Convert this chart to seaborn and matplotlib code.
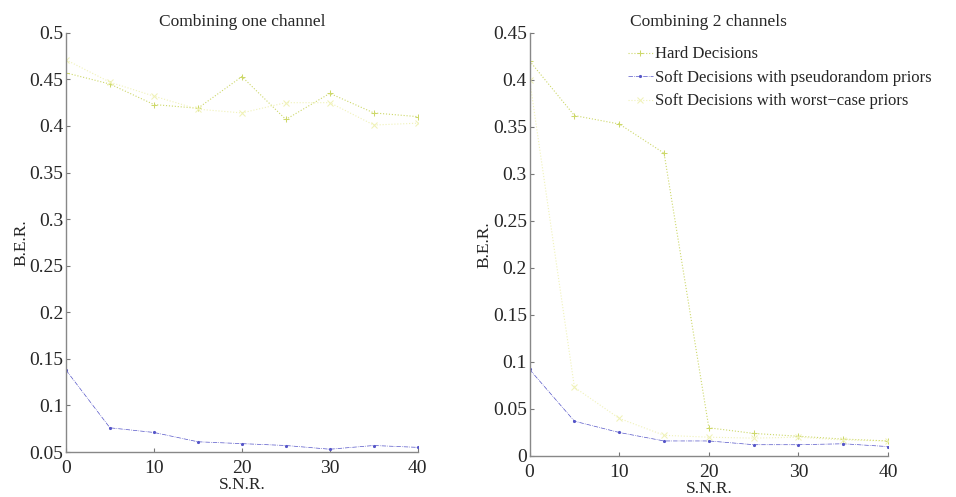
import numpy as np
import pandas as pd
import matplotlib
matplotlib.use("Agg")
import matplotlib.pyplot as plt
import seaborn as sns

snr = [0, 5, 10, 15, 20, 25, 30, 35, 40]

# one channel
hard_1 = [0.457, 0.445, 0.423, 0.419, 0.453, 0.407, 0.435, 0.414, 0.410]
soft_pseudo_1 = [0.138, 0.076, 0.071, 0.061, 0.059, 0.057, 0.053, 0.057, 0.055]
soft_worst_1 = [0.471, 0.447, 0.432, 0.418, 0.414, 0.425, 0.425, 0.401, 0.403]

# two channels
hard_2 = [0.42, 0.362, 0.353, 0.322, 0.030, 0.024, 0.021, 0.018, 0.016]
soft_pseudo_2 = [0.092, 0.037, 0.025, 0.016, 0.016, 0.012, 0.012, 0.013, 0.010]
soft_worst_2 = [0.40, 0.073, 0.040, 0.022, 0.020, 0.019, 0.020, 0.017, 0.016]

labels = ["Hard Decisions",
          "Soft Decisions with pseudorandom priors",
          "Soft Decisions with worst\u2212case priors"]

sns.set_style("white")
plt.rcParams['font.family'] = ['Liberation Serif', 'DejaVu Serif']

fig = plt.figure(figsize=(9.56, 4.97), dpi=100)
ax1 = fig.add_axes([0.069, 0.0905, 0.368, 0.8435])
ax2 = fig.add_axes([0.554, 0.0825, 0.375, 0.8515])

colors = ["#cdd86a", "#5555c8", "#f0f2b8"]
styles = [dict(marker="+", linestyle=":", markersize=5, linewidth=0.8),
          dict(marker=".", linestyle="-.", markersize=3, linewidth=0.5),
          dict(marker="x", linestyle=":", markersize=4, linewidth=0.8)]

panels = [(ax1, [hard_1, soft_pseudo_1, soft_worst_1], "Combining one channel", (0.05, 0.5),
           [0.05, 0.1, 0.15, 0.2, 0.25, 0.3, 0.35, 0.4, 0.45, 0.5]),
          (ax2, [hard_2, soft_pseudo_2, soft_worst_2], "Combining 2 channels", (0, 0.45),
           [0, 0.05, 0.1, 0.15, 0.2, 0.25, 0.3, 0.35, 0.4, 0.45])]

for ax, series, title, ylim, yticks in panels:
    for vals, lab, c, st in zip(series, labels, colors, styles):
        sns.lineplot(x=snr, y=vals, ax=ax, color=c, label=lab,
                     markeredgecolor=c, **st)
    ax.set_xlim(0, 40)
    ax.set_ylim(*ylim)
    ax.set_xticks([0, 10, 20, 30, 40])
    ax.set_yticks(yticks)
    ax.set_yticklabels([f"{t:g}" for t in yticks])
    ax.set_title(title, fontsize=12.5, pad=5)
    ax.set_xlabel("S.N.R.", fontsize=12.5, labelpad=0)
    ax.set_ylabel("B.E.R.", fontsize=12.5, labelpad=0)
    ax.tick_params(direction="in", length=3, labelsize=14, color="#777777",
                   left=True, bottom=True)
    ax.tick_params(axis="y", pad=2)
    ax.tick_params(axis="x", pad=6)
    for side in ["top", "right"]:
        ax.spines[side].set_visible(False)
    for side in ["left", "bottom"]:
        ax.spines[side].set_color("#888888")
        ax.spines[side].set_linewidth(1.0)

ax1.get_legend().remove()
ax2.legend(loc="upper left", bbox_to_anchor=(0.274, 0.968), frameon=False, fontsize=12,
           handlelength=1.5, handletextpad=0.15, labelspacing=0.45,
           borderpad=0, borderaxespad=0)

fig.savefig("out.png", dpi=100)
